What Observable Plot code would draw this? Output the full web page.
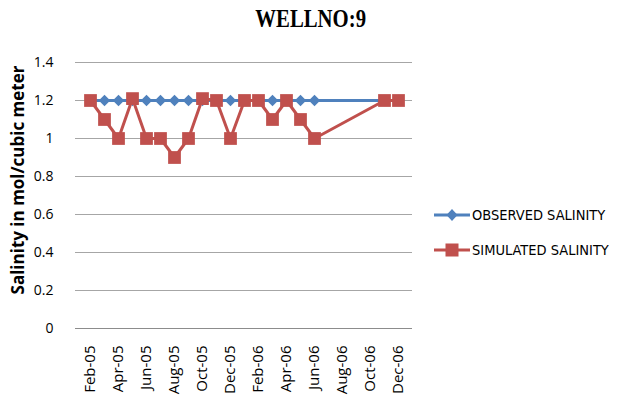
<!DOCTYPE html>
<html><head><meta charset="utf-8">
<script src="https://cdn.jsdelivr.net/npm/d3@7"></script>
<script src="https://cdn.jsdelivr.net/npm/@observablehq/plot@0.6"></script>
<style>
body{margin:0;background:#fff;}
#wrap{position:relative;width:619px;height:406px;overflow:hidden;}
#title{height:40px;text-align:center;line-height:44px;padding-left:2px;}
#title span{display:inline-block;font:bold 25px "Liberation Serif","DejaVu Serif",serif;transform:scaleX(0.83);color:#000;}
#ylabel{position:absolute;left:18px;top:180px;transform:translate(-50%,-50%) rotate(-90deg);white-space:nowrap;font:bold 17px "Open Sans",sans-serif;color:#000;line-height:20px;}
#legend{position:absolute;left:434px;top:203px;font-family:"Liberation Sans Narrow","DejaVu Sans Condensed",sans-serif;font-size:14.5px;color:#000;}
#legend .row{display:flex;align-items:center;height:24px;margin-bottom:11px;}
#legend svg{margin-right:2px;}
</style></head>
<body><div id="wrap"><div id="title"><span>WELLNO:9</span></div><div id="chart"></div><div id="ylabel"></div><div id="legend"></div></div>
<script>
const months = ["Feb-05","Mar-05","Apr-05","May-05","Jun-05","Jul-05","Aug-05","Sep-05","Oct-05","Nov-05","Dec-05","Jan-06","Feb-06","Mar-06","Apr-06","May-06","Jun-06","Jul-06","Aug-06","Sep-06","Oct-06","Nov-06","Dec-06"];
const tickLabels = ["Feb-05","Apr-05","Jun-05","Aug-05","Oct-05","Dec-05","Feb-06","Apr-06","Jun-06","Aug-06","Oct-06","Dec-06"];
const yTicks = [0,0.2,0.4,0.6,0.8,1,1.2,1.4];
const obsMonths = ["Feb-05","Mar-05","Apr-05","May-05","Jun-05","Jul-05","Aug-05","Sep-05","Oct-05","Nov-05","Dec-05","Jan-06","Feb-06","Mar-06","Apr-06","May-06","Jun-06","Nov-06","Dec-06"];
const obsValues = [1.2,1.2,1.2,1.2,1.2,1.2,1.2,1.2,1.2,1.2,1.2,1.2,1.2,1.2,1.2,1.2,1.2,1.2,1.2];
const simMonths = obsMonths;
const simValues = [1.2,1.1,1.0,1.21,1.0,1.0,0.9,1.0,1.21,1.2,1.0,1.2,1.2,1.1,1.2,1.1,1.0,1.2,1.2];
const seriesNames = ["OBSERVED SALINITY","SIMULATED SALINITY"];
const colors = ["#4F81BD","#C0504D"];
const yLabel = "Salinity in mol/cubic meter";

const obs = obsMonths.map((m,i)=>({m, v: obsValues[i]}));
const sim = simMonths.map((m,i)=>({m, v: simValues[i]}));

const plot = Plot.plot({
  width: 619, height: 366,
  marginLeft: 75, marginRight: 207, marginTop: 22, marginBottom: 78,
  style: {fontFamily: "'Open Sans', sans-serif", fontSize: "14px", color: "#000", background: "#fff"},
  x: {type: "point", domain: months, padding: 0.5},
  y: {domain: [0, 1.4]},
  marks: [
    Plot.gridY(yTicks, {stroke: "#a6a6a6", strokeOpacity: 1, strokeWidth: 1}),
    Plot.ruleX([0], {frameAnchor: "left", stroke: "#8c8c8c"}),
    Plot.ruleY([0], {stroke: "#8c8c8c"}),
    Plot.axisY({ticks: yTicks, tickSize: 0, tickPadding: 22, tickFormat: d => String(d), label: null}),
    Plot.axisX({ticks: tickLabels, tickSize: 0, tickPadding: 17, tickRotate: -90, label: null, fontSize: 15}),
    Plot.line(obs, {x: "m", y: "v", stroke: colors[0], strokeWidth: 3}),
    Plot.dot(obs, {x: "m", y: "v", symbol: "diamond2", r: 5.2, fill: colors[0], stroke: "none"}),
    Plot.line(sim, {x: "m", y: "v", stroke: colors[1], strokeWidth: 3}),
    Plot.dot(sim, {x: "m", y: "v", symbol: "square", r: 7.2, fill: colors[1], stroke: "none"})
  ]
});
document.getElementById("chart").appendChild(plot);
document.getElementById("ylabel").textContent = yLabel;

const leg = document.getElementById("legend");
seriesNames.forEach((name, i) => {
  const row = document.createElement("div");
  row.className = "row";
  const marker = i === 0
    ? `<polygon points="18,6 23.5,12 18,18 12.5,12" fill="${colors[0]}"/>`
    : `<rect x="11.5" y="5.5" width="13" height="13" fill="${colors[1]}"/>`;
  row.innerHTML = `<svg width="36" height="24"><line x1="0" x2="36" y1="12" y2="12" stroke="${colors[i]}" stroke-width="3"/>${marker}</svg><span>${name}</span>`;
  leg.appendChild(row);
});
</script>
</body></html>
